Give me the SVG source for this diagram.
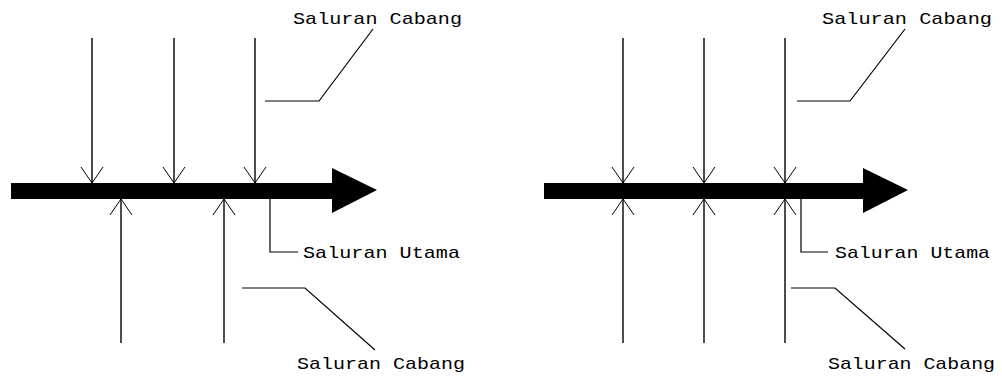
<svg xmlns="http://www.w3.org/2000/svg" width="1002" height="377" viewBox="0 0 1002 377">
<style>
.ln{stroke:#000;stroke-width:1.4;fill:none}
.ld{stroke:#000;stroke-width:1.2;fill:none}
.tx{font-family:"Liberation Mono","DejaVu Sans Mono",monospace;font-size:17px;fill:#000}
</style>
<defs>
<marker id="v" markerUnits="userSpaceOnUse" markerWidth="30" markerHeight="30" refX="0" refY="0" viewBox="-20 -15 25 30" orient="auto" overflow="visible">
<path d="M-16,-11 L0,0 L-16,11" stroke="#000" stroke-width="1" fill="none"/>
</marker>
</defs>
<rect width="1002" height="377" fill="#fff"/>
<g id="main-left"><polygon points="11,183 332,183 332,168 377,190 332,213 332,199 11,199" fill="#000"/></g>
<g id="main-right"><polygon points="544,183 863,183 863,168 908,190 863,213 863,199 544,199" fill="#000"/></g>
<g id="connectors">
<line class="ln" x1="92" y1="38" x2="92" y2="183" marker-end="url(#v)"/>
<line class="ln" x1="174" y1="38" x2="174" y2="183" marker-end="url(#v)"/>
<line class="ln" x1="255" y1="38" x2="255" y2="183" marker-end="url(#v)"/>
<line class="ln" x1="121" y1="343" x2="121" y2="199" marker-end="url(#v)"/>
<line class="ln" x1="224" y1="343" x2="224" y2="199" marker-end="url(#v)"/>
<line class="ln" x1="623" y1="38" x2="623" y2="183" marker-end="url(#v)"/>
<line class="ln" x1="704" y1="38" x2="704" y2="183" marker-end="url(#v)"/>
<line class="ln" x1="785" y1="38" x2="785" y2="183" marker-end="url(#v)"/>
<line class="ln" x1="623" y1="343" x2="623" y2="199" marker-end="url(#v)"/>
<line class="ln" x1="704" y1="343" x2="704" y2="199" marker-end="url(#v)"/>
<line class="ln" x1="785" y1="343" x2="785" y2="199" marker-end="url(#v)"/>
<polyline class="ld" points="265,101 319,101 373,29"/>
<polyline class="ld" points="270,199 270,252 298,252"/>
<polyline class="ld" points="242,288 305,288 375,350"/>
<polyline class="ld" points="797,101 850,101 905,29"/>
<polyline class="ld" points="801,199 801,252 828,252"/>
<polyline class="ld" points="791,288 835,288 905,349"/>
</g>
<g id="label-left-top"><text class="tx" x="293" y="24" textLength="169" lengthAdjust="spacingAndGlyphs">Saluran Cabang</text></g>
<g id="label-left-main"><text class="tx" x="303" y="258" textLength="157" lengthAdjust="spacingAndGlyphs">Saluran Utama</text></g>
<g id="label-left-bottom"><text class="tx" x="297" y="369" textLength="168" lengthAdjust="spacingAndGlyphs">Saluran Cabang</text></g>
<g id="label-right-top"><text class="tx" x="822" y="24" textLength="170" lengthAdjust="spacingAndGlyphs">Saluran Cabang</text></g>
<g id="label-right-main"><text class="tx" x="835" y="258" textLength="155" lengthAdjust="spacingAndGlyphs">Saluran Utama</text></g>
<g id="label-right-bottom"><text class="tx" x="828" y="369" textLength="167" lengthAdjust="spacingAndGlyphs">Saluran Cabang</text></g>
</svg>
